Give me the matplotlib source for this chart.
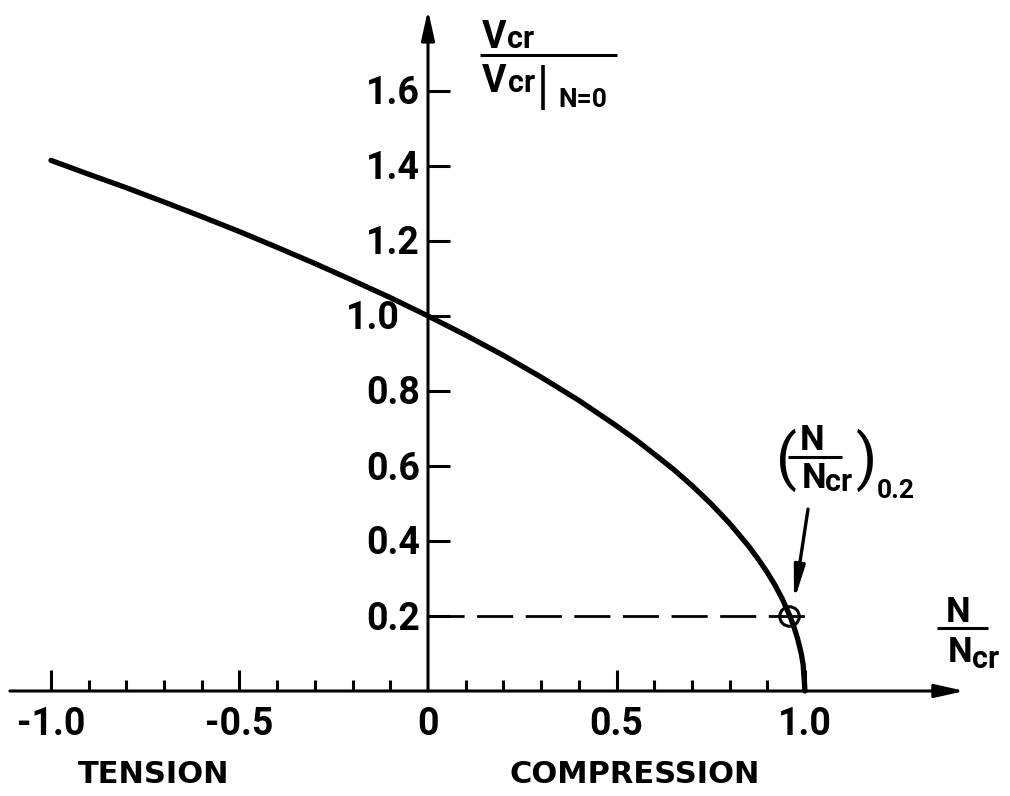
import matplotlib
matplotlib.use('Agg')
import matplotlib.pyplot as plt

# curva V_cr / V_cr|N=0 em função de N/N_cr
ratio_n = [-1.0, -0.9, -0.8, -0.7, -0.6, -0.5, -0.4, -0.3, -0.2, -0.1, 0.0,
           0.1, 0.2, 0.3, 0.4, 0.5, 0.55, 0.6, 0.65, 0.7, 0.75, 0.8, 0.85,
           0.88, 0.9, 0.92, 0.94, 0.96, 0.97, 0.98, 0.99, 0.995, 1.0]
ratio_v = [1.415, 1.378, 1.342, 1.304, 1.265, 1.225, 1.183, 1.140, 1.095,
           1.049, 1.0, 0.949, 0.895, 0.837, 0.775, 0.707, 0.671, 0.632,
           0.592, 0.548, 0.500, 0.447, 0.387, 0.346, 0.316, 0.283, 0.245,
           0.2, 0.173, 0.141, 0.1, 0.071, 0.0]

# ponto marcado (N/Ncr)_0.2
point_n = 0.958
point_v = 0.2

# eixos
xtick_major = [-1.0, -0.5, 0.5, 1.0]
xtick_minor = [-0.9, -0.8, -0.7, -0.6, -0.4, -0.3, -0.2, -0.1,
               0.1, 0.2, 0.3, 0.4, 0.6, 0.7, 0.8, 0.9]
xtick_pos = [-1.0, -0.5, 0.0, 0.5, 1.0]
xtick_labels = ['-1.0', '-0.5', '0', '0.5', '1.0']
ytick_pos = [0.2, 0.4, 0.6, 0.8, 1.0, 1.2, 1.4, 1.6]
ytick_labels = ['0.2', '0.4', '0.6', '0.8', '1.0', '1.2', '1.4', '1.6']

NUM = 'Roboto'
LET = 'DejaVu Sans'

fig = plt.figure(figsize=(10.1, 7.96), dpi=100)
ax = fig.add_axes([0, 0, 1, 1])
ax.set_xlim(-428 / 377, (1010 - 428) / 377)
ax.set_ylim(-105 / 375, 691 / 375)
ax.axis('off')

k = dict(color='black', solid_capstyle='butt')

# eixo x e eixo y com setas
arrow = dict(arrowstyle='-|>,head_length=0.9,head_width=0.2', lw=2.2,
             color='black', shrinkA=0, shrinkB=0, mutation_scale=20)
ax.annotate('', xy=(1.424, 0), xytext=(-1.109, 0), arrowprops=arrow)
ax.annotate('', xy=(0, 1.816), xytext=(0, 0), arrowprops=arrow)

# marcas do eixo x
for t in xtick_major:
    ax.plot([t, t], [0, 0.056], lw=2.2, **k)
for t in xtick_minor:
    ax.plot([t, t], [0, 0.029], lw=2.2, **k)
for t, lab in zip(xtick_pos, xtick_labels):
    ax.text(t, -0.117, lab, ha='center', va='baseline', fontsize=27,
            family=NUM, weight='bold')

# marcas do eixo y
for t, lab in zip(ytick_pos, ytick_labels):
    ax.plot([0, 0.058], [t, t], lw=2.2, **k)
    xl = -0.074 if lab == '1.0' else -0.021
    ax.text(xl, t - 0.036, lab, ha='right', va='baseline', fontsize=27,
            family=NUM, weight='bold')

# curva
ax.plot(ratio_n, ratio_v, color='black', lw=3.8, solid_capstyle='round',
        solid_joinstyle='round')

# linha tracejada e ponto
ax.plot([0, 1.02], [point_v, point_v], color='black', lw=2.0,
        dashes=(13, 4.5))
ax.plot([point_n], [point_v], 'o', ms=14, mfc='none', mec='black', mew=2.2)

# seta do rótulo
ax.annotate('', xy=(0.971, 0.24), xytext=(1.008, 0.485),
            arrowprops=dict(arrowstyle='-|>,head_length=1.0,head_width=0.16',
                            lw=2.4, color='black', shrinkA=0, shrinkB=0,
                            mutation_scale=20))

# rótulo do eixo y: Vcr / Vcr|N=0
ax.text(0.1432, 1.7147, 'V', fontsize=27, family=NUM, weight='bold', va='baseline')
ax.text(0.2095, 1.7147, 'cr', fontsize=22, family=NUM, weight='bold', va='baseline')
ax.plot([0.138, 0.501], [1.696, 1.696], lw=2.2, **k)
ax.text(0.1432, 1.5973, 'V', fontsize=27, family=NUM, weight='bold', va='baseline')
ax.text(0.212, 1.5973, 'cr', fontsize=22, family=NUM, weight='bold', va='baseline')
ax.plot([0.305, 0.305], [1.669, 1.549], lw=2.6, **k)
ax.text(0.347, 1.557, 'N=0', fontsize=19, family=NUM, weight='bold', va='baseline')

# rótulo do eixo x: N / Ncr
ax.text(1.406, 0.184, 'N', fontsize=25, family=NUM, weight='bold', va='baseline', ha='center')
ax.plot([1.350, 1.485], [0.168, 0.168], lw=2.2, **k)
ax.text(1.379, 0.0773, 'N', fontsize=25, family=NUM, weight='bold', va='baseline')
ax.text(1.443, 0.0613, 'cr', fontsize=22, family=NUM, weight='bold', va='baseline')

# rótulo (N/Ncr)_0.2
ax.text(0.9496, 0.616, '(', fontsize=44, family=NUM, ha='center', va='center')
ax.text(1.0186, 0.6427, 'N', fontsize=25, family=NUM, weight='bold', va='baseline', ha='center')
ax.plot([0.955, 1.098], [0.624, 0.624], lw=2.2, **k)
ax.text(0.992, 0.541, 'N', fontsize=25, family=NUM, weight='bold', va='baseline')
ax.text(1.053, 0.533, 'cr', fontsize=22, family=NUM, weight='bold', va='baseline')
ax.text(1.164, 0.616, ')', fontsize=44, family=NUM, ha='center', va='center')
ax.text(1.191, 0.5147, '0.2', fontsize=19, family=NUM, weight='bold', va='baseline')

# tensão / compressão
ax.text(-0.727, -0.245, 'TENSION', fontsize=22, family=LET, weight='bold',
        ha='center', va='baseline')
ax.text(0.549, -0.245, 'COMPRESSION', fontsize=22, family=LET, weight='bold',
        ha='center', va='baseline')

fig.savefig('out.png', dpi=100)
